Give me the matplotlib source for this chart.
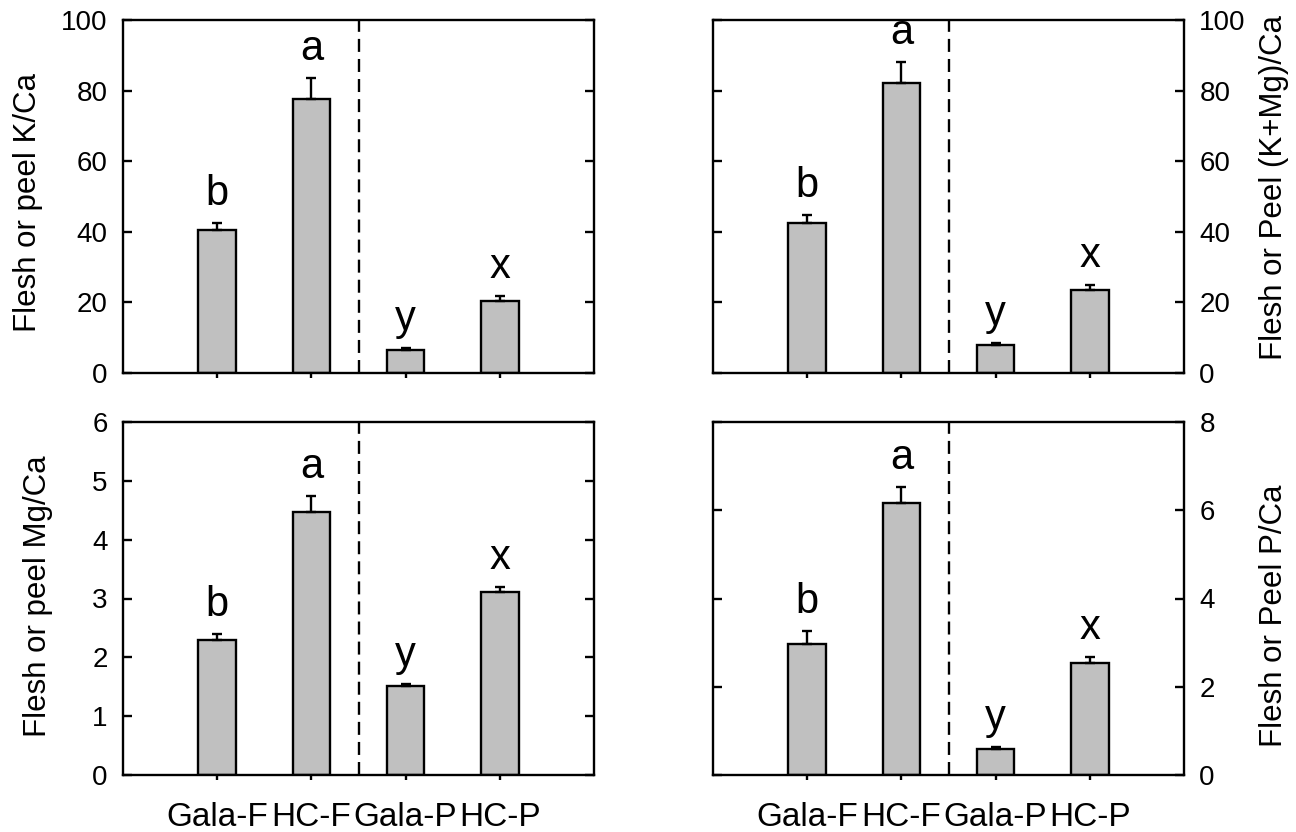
import matplotlib
matplotlib.use("Agg")
import matplotlib.pyplot as plt
import numpy as np

plt.rcParams['font.family'] = ['Liberation Sans', 'DejaVu Sans']

categories = ['Gala-F', 'HC-F', 'Gala-P', 'HC-P']
letters = ['b', 'a', 'y', 'x']

k_ca = [40.4, 77.5, 6.6, 20.5]
k_ca_se = [2.2, 6.0, 0.5, 1.4]

kmg_ca = [42.6, 82.1, 8.0, 23.6]
kmg_ca_se = [2.2, 6.1, 0.5, 1.3]

mg_ca = [2.30, 4.47, 1.51, 3.11]
mg_ca_se = [0.09, 0.27, 0.04, 0.09]

p_ca = [2.97, 6.17, 0.60, 2.53]
p_ca_se = [0.30, 0.36, 0.04, 0.15]

panels = [
    dict(vals=k_ca, se=k_ca_se, ylabel='Flesh or peel K/Ca', ylim=(0, 100),
         ticks=[0, 20, 40, 60, 80, 100], side='left', row=0, laby=0.483, labx=-0.202),
    dict(vals=kmg_ca, se=kmg_ca_se, ylabel='Flesh or Peel (K+Mg)/Ca', ylim=(0, 100),
         ticks=[0, 20, 40, 60, 80, 100], side='right', row=0, laby=0.525, labx=1.192),
    dict(vals=mg_ca, se=mg_ca_se, ylabel='Flesh or peel Mg/Ca', ylim=(0, 6),
         ticks=[0, 1, 2, 3, 4, 5, 6], side='left', row=1, laby=0.506, labx=-0.181),
    dict(vals=p_ca, se=p_ca_se, ylabel='Flesh or Peel P/Ca', ylim=(0, 8),
         ticks=[0, 2, 4, 6, 8], side='right', row=1, laby=0.45, labx=1.192),
]

W, H = 1296, 832
fig = plt.figure(figsize=(W / 100, H / 100), dpi=100)

lefts = {'left': 123, 'right': 713}
bottoms = {0: 373, 1: 775}
aw, ah = 471, 353

x = np.arange(1, len(categories) + 1)
LW = 1.7

for p in panels:
    l = lefts[p['side']] / W
    b = (H - bottoms[p['row']]) / H
    ax = fig.add_axes([l, b, aw / W, ah / H])
    ax.bar(x, p['vals'], width=0.4, color='#c0c0c0', edgecolor='black',
           linewidth=LW, zorder=2)
    ax.errorbar(x, p['vals'], yerr=[np.zeros(len(x)), p['se']], fmt='none',
                ecolor='black', elinewidth=LW, capsize=3.5, capthick=LW, zorder=3)
    for xi, v, s, t in zip(x, p['vals'], p['se'], letters):
        ax.annotate(t, xy=(xi, v + s), xytext=(0, 13), textcoords='offset points',
                    ha='center', va='baseline', fontsize=30)
    ax.axvline(2.5, color='black', linewidth=LW, dashes=(5.5, 3), zorder=1)
    ax.set_xlim(0, 5)
    ax.set_ylim(*p['ylim'])
    ax.set_yticks(p['ticks'])
    ax.set_xticks(x)
    for sp in ax.spines.values():
        sp.set_linewidth(LW)
    is_left = p['side'] == 'left'
    ax.tick_params(axis='y', direction='in', length=6.5, width=LW,
                   left=True, right=True, labelleft=is_left, labelright=not is_left,
                   labelsize=20, pad=11)
    ax.tick_params(axis='x', direction='out', length=3.5, width=LW, top=False,
                   labelsize=24, pad=16, labelbottom=(p['row'] == 1))
    if p['row'] == 1:
        ax.set_xticklabels(categories)
    else:
        ax.set_xticklabels([])
    if is_left:
        ax.set_ylabel(p['ylabel'], fontsize=22.5, va='center')
    else:
        ax.yaxis.set_label_position('right')
        ax.set_ylabel(p['ylabel'], fontsize=22.5, va='center', rotation=90)
    ax.yaxis.set_label_coords(p['labx'], p['laby'])

fig.savefig('out.png', dpi=100)
